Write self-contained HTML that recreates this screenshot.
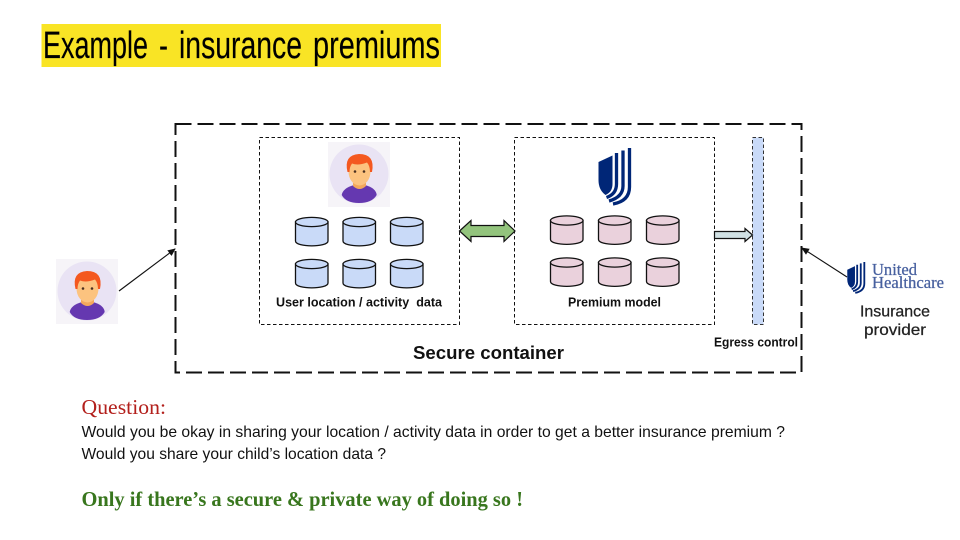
<!DOCTYPE html>
<html>
<head>
<meta charset="utf-8">
<style>
html,body{margin:0;padding:0;background:#fff;width:960px;height:540px;overflow:hidden}
svg{display:block}
text{font-family:"Liberation Sans",sans-serif;fill:#111}
.serif{font-family:"Liberation Serif",serif}
.title{fill:#000;stroke:#000;stroke-width:.15}
</style>
</head>
<body>
<svg width="960" height="540" viewBox="0 0 960 540" xmlns="http://www.w3.org/2000/svg">
<defs>
  <g id="avatar">
    <rect x="0" y="0" width="62" height="65" fill="#f6f4f8"/>
    <circle cx="31" cy="32" r="29.5" fill="#e9e3f4"/>
    <path d="M13.7,53 Q15,46 26,43 L37,43 Q48,46 48.7,53 Q44,61 31,61 Q18,61 13.7,53Z" fill="#6538b0"/>
    <path d="M25,36 H38 V44 Q31.5,50 25,44Z" fill="#f3a85c"/>
    <ellipse cx="31.5" cy="29.5" rx="11" ry="14" fill="#fcc37f"/>
    <path d="M19.5,30 Q15.5,13 31,12 Q47.5,12 44,30 L42,30 Q42,24 39,20.5 Q30,24 24,21.5 Q21.5,25 21.5,30Z" fill="#f4581f"/>
    <circle cx="27" cy="29.5" r="1.3" fill="#4a3020"/>
    <circle cx="36" cy="29.5" r="1.3" fill="#4a3020"/>
  </g>
  <g id="cyl">
    <path d="M0.5,5 V24 C0.5,30.5 33,30.5 33,24 V5 Z" stroke="#111" stroke-width="1.3"/>
    <ellipse cx="16.75" cy="5" rx="16.25" ry="4.6" stroke="#111" stroke-width="1.3"/>
  </g>
  <g id="uhc" fill="none" stroke="#002677">
    <path d="M0.5,14 L14.5,7.5 V36 Q14.5,44 7.5,47 Q0.5,42 0.5,32Z" fill="#002677" stroke="none"/>
    <path d="M18.5,5 V36 Q18.5,46 8.5,49.5" stroke-width="3.3"/>
    <path d="M25,2.5 V38 Q25,49 11,53" stroke-width="3.3"/>
    <path d="M31.5,0 V39 Q31.5,53 15,56" stroke-width="3.3"/>
  </g>
  <marker id="ah" markerWidth="8" markerHeight="8" refX="7" refY="3.5" orient="auto" markerUnits="userSpaceOnUse">
    <path d="M0,0 L8,3.5 L0,7Z" fill="#111"/>
  </marker>
</defs>

<!-- Title -->
<rect x="41.5" y="24" width="399.5" height="43" fill="#f9e425"/>
<text class="title" x="43" y="58" font-size="38" textLength="105" lengthAdjust="spacingAndGlyphs">Example</text>
<text class="title" x="159" y="58" font-size="38" textLength="9" lengthAdjust="spacingAndGlyphs">-</text>
<text class="title" x="179" y="58" font-size="38" textLength="123" lengthAdjust="spacingAndGlyphs">insurance</text>
<text class="title" x="313" y="58" font-size="38" textLength="127" lengthAdjust="spacingAndGlyphs">premiums</text>

<!-- Outer container -->
<rect x="175.5" y="124" width="626" height="248.5" fill="none" stroke="#111" stroke-width="2" stroke-dasharray="16 6"/>

<!-- Inner boxes -->
<rect x="259.5" y="137.5" width="200" height="187" fill="none" stroke="#111" stroke-width="1" stroke-dasharray="3.5 2.5"/>
<rect x="514.5" y="137.5" width="200" height="187" fill="none" stroke="#111" stroke-width="1" stroke-dasharray="3.5 2.5"/>

<!-- Egress bar -->
<rect x="752.5" y="137.5" width="11" height="187" fill="#c9daf8" stroke="#333" stroke-width="1" stroke-dasharray="3.5 2.5"/>

<!-- Avatars -->
<use href="#avatar" x="328" y="142"/>
<use href="#avatar" x="56" y="259"/>

<!-- Blue cylinders -->
<g fill="#c9daf8">
  <use href="#cyl" x="295" y="217"/>
  <use href="#cyl" x="342.5" y="217"/>
  <use href="#cyl" x="390" y="217"/>
  <use href="#cyl" x="295" y="259"/>
  <use href="#cyl" x="342.5" y="259"/>
  <use href="#cyl" x="390" y="259"/>
</g>

<!-- Pink cylinders -->
<g fill="#ead1dc">
  <use href="#cyl" x="550" y="215.5"/>
  <use href="#cyl" x="598" y="215.5"/>
  <use href="#cyl" x="646" y="215.5"/>
  <use href="#cyl" x="550" y="257.5"/>
  <use href="#cyl" x="598" y="257.5"/>
  <use href="#cyl" x="646" y="257.5"/>
</g>

<!-- Logos -->
<use href="#uhc" transform="translate(598,148)"/>
<use href="#uhc" transform="translate(847,262) scale(0.55)"/>

<!-- Block arrows -->
<path d="M459.5,231 L471,220.5 V225.5 H504 V220.5 L515,231 L504,241.5 V236.5 H471 V241.5Z" fill="#93c47d" stroke="#111" stroke-width="1.2"/>
<path d="M714.5,231.5 H745 V228.5 L752.5,235 L745,241.5 V238.5 H714.5Z" fill="#d0e0e3" stroke="#111" stroke-width="1.2"/>

<!-- Thin arrows -->
<line x1="119" y1="291" x2="175" y2="249" stroke="#111" stroke-width="1.1" marker-end="url(#ah)"/>
<line x1="847" y1="277" x2="802" y2="248" stroke="#111" stroke-width="1.1" marker-end="url(#ah)"/>

<!-- Labels -->
<text x="276" y="306.5" font-size="13" font-weight="bold" textLength="166" lengthAdjust="spacingAndGlyphs" fill="#222">User location / activity&#160; data</text>
<text x="568" y="306.5" font-size="13" font-weight="bold" textLength="93" lengthAdjust="spacingAndGlyphs" fill="#222">Premium model</text>
<text x="714" y="346.5" font-size="13" font-weight="bold" textLength="84" lengthAdjust="spacingAndGlyphs" fill="#222">Egress control</text>
<text x="413" y="359" font-size="18" font-weight="bold" textLength="151" lengthAdjust="spacingAndGlyphs" fill="#000">Secure container</text>

<text class="serif" x="872" y="275" font-size="16.5" textLength="45" lengthAdjust="spacingAndGlyphs" style="fill:#47609f;stroke:#47609f;stroke-width:.25">United</text>
<text class="serif" x="872" y="288" font-size="16.5" textLength="72" lengthAdjust="spacingAndGlyphs" style="fill:#47609f;stroke:#47609f;stroke-width:.25">Healthcare</text>

<text x="860" y="316.5" font-size="16" textLength="70" lengthAdjust="spacingAndGlyphs" style="fill:#222;stroke:#222;stroke-width:.25">Insurance</text>
<text x="864" y="335" font-size="16" textLength="62" lengthAdjust="spacingAndGlyphs" style="fill:#222;stroke:#222;stroke-width:.25">provider</text>

<!-- Bottom text -->
<text class="serif" x="81.5" y="414" font-size="21" textLength="84.5" lengthAdjust="spacingAndGlyphs" style="fill:#b3201c">Question:</text>
<text x="81.5" y="437" font-size="16" textLength="703.5" lengthAdjust="spacingAndGlyphs" fill="#111">Would you be okay in sharing your location / activity data in order to get a better insurance premium ?</text>
<text x="81.5" y="459" font-size="16" textLength="304.5" lengthAdjust="spacingAndGlyphs" fill="#111">Would you share your child’s location data ?</text>
<text class="serif" x="81.5" y="506" font-size="21" font-weight="bold" textLength="441.5" lengthAdjust="spacingAndGlyphs" style="fill:#38761d">Only if there’s a secure &amp; private way of doing so !</text>
</svg>
</body>
</html>
